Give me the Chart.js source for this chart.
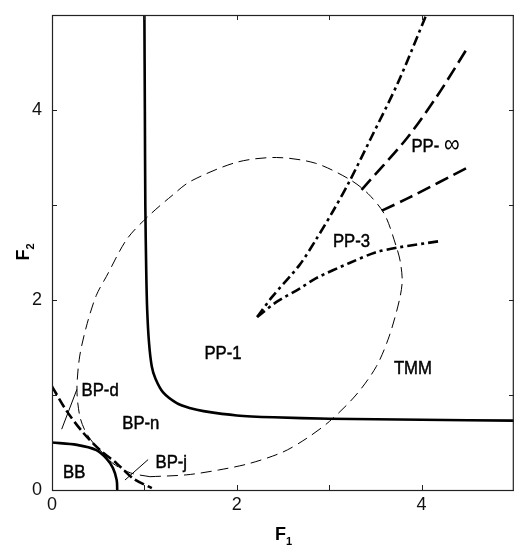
<!DOCTYPE html>
<html>
<head>
<meta charset="utf-8">
<script src="https://cdn.jsdelivr.net/npm/chart.js@4.4.1/dist/chart.umd.min.js"></script>
<style>
  html, body { margin: 0; padding: 0; background: #fff; }
  #phase { display: block; }
</style>
</head>
<body>
<canvas id="phase" width="514" height="545"></canvas>
<script>
// --- data (F1, F2) ---
const xTicks = [0, 1, 2, 3, 4, 5];
const xTickLabels = ['0', '', '2', '', '4', ''];
const yTicks = [0, 1, 2, 3, 4, 5];
const yTickLabels = ['0', '', '2', '', '4', ''];

// thick solid: PP-1 / BP-n boundary
const ppBoundary = [[1.0, 5.0], [1.005, 4.0], [1.01, 3.0], [1.02, 2.3], [1.03, 1.9], [1.05, 1.55],
  [1.08, 1.3], [1.12, 1.17], [1.2, 1.03], [1.35, 0.915], [1.5, 0.86], [1.64, 0.83], [2.0, 0.785],
  [2.4, 0.765], [3.0, 0.75], [4.0, 0.74], [5.0, 0.73]];
// thick solid: BB region
const bbBoundary = [[0, 0.5], [0.27, 0.475], [0.48, 0.42], [0.59, 0.33], [0.66, 0.23], [0.7, 0.105], [0.706, 0]];
// thick dashed: BP-d / BP-j split
const bpSplit = [[0, 1.09], [0.16, 0.83], [0.34, 0.6], [0.52, 0.42], [0.7, 0.28], [0.88, 0.12], [1.08, 0.02]];
// thin dashed closed loop: TMM
const tmmLoop = [[1.06, 0.14], [1.46, 0.16], [1.8, 0.21], [2.14, 0.28], [2.5, 0.4], [2.75, 0.54], [3.0, 0.72],
  [3.29, 1.0], [3.51, 1.3], [3.65, 1.62], [3.76, 2.0], [3.79, 2.2], [3.77, 2.4], [3.73, 2.55], [3.6, 2.9],
  [3.42, 3.12], [3.22, 3.27], [2.85, 3.44], [2.43, 3.5], [2.0, 3.45], [1.5, 3.25], [1.3, 3.1], [1.04, 2.88],
  [0.81, 2.64], [0.59, 2.25], [0.48, 2.05], [0.38, 1.75], [0.3, 1.41], [0.27, 1.06], [0.3, 0.78],
  [0.36, 0.62], [0.45, 0.49], [0.52, 0.42], [0.66, 0.28], [0.85, 0.18], [1.06, 0.14]];
// dash-dot branches from the PP-1 corner
const ppUpper = [[2.22, 1.82], [2.38, 2.03], [2.68, 2.37], [2.86, 2.64], [3.05, 2.95], [3.22, 3.25],
  [3.45, 3.7], [3.75, 4.3], [4.05, 5.0]];
const ppLower = [[2.22, 1.82], [2.43, 1.98], [2.68, 2.12], [2.86, 2.23], [3.22, 2.39], [3.5, 2.5],
  [3.73, 2.55], [4.2, 2.62]];
// long dashed: PP-inf edges
const infUpper = [[3.35, 3.16], [3.83, 3.69], [4.17, 4.15], [4.5, 4.66]];
const infLower = [[3.57, 2.94], [3.87, 3.08], [4.51, 3.4]];
// thin leader lines to labels
const leaderBPd = [[0.105, 0.64], [0.27, 1.06]];
const leaderBPj = [[0.79, 0.105], [1.04, 0.32]];

const regionNames = ['BB', 'BP-d', 'BP-n', 'BP-j', 'PP-1', 'PP-3', 'PP-', 'TMM'];
// --- end of data ---

function pts(list) {
  return list.map(p => ({ x: p[0], y: p[1] }));
}

function curve(list, width, dash, tension) {
  return {
    data: pts(list),
    showLine: true,
    borderColor: '#000',
    borderWidth: width,
    borderDash: dash,
    pointRadius: 0,
    tension: tension,
    fill: false
  };
}

// text anchors (left, baseline) in data units, and the squeeze of the scanned font
const labelAnchors = {
  'BB': [0.12, 0.13], 'BP-d': [0.32, 0.99], 'BP-n': [0.76, 0.64], 'BP-j': [1.12, 0.23],
  'PP-1': [1.65, 1.38], 'PP-3': [3.04, 2.56], 'PP-': [3.89, 3.56], 'TMM': [3.7, 1.22]
};
const textSqueeze = 0.88;

const framePlugin = {
  id: 'frame',
  afterDraw(chart) {
    const ctx = chart.ctx;
    const a = chart.chartArea;
    const xs = chart.scales.x, ys = chart.scales.y;
    ctx.save();
    ctx.strokeStyle = '#222';
    ctx.lineWidth = 1.2;
    ctx.strokeRect(a.left + 0.5, a.top + 0.5, a.right - a.left - 1.2, a.bottom - a.top);
    ctx.lineWidth = 1;
    ctx.beginPath();
    xTicks.forEach(v => {
      const px = Math.round(xs.getPixelForValue(v)) + 0.5;
      ctx.moveTo(px, a.bottom); ctx.lineTo(px, a.bottom - 5);
      ctx.moveTo(px, a.top); ctx.lineTo(px, a.top + 5);
    });
    yTicks.forEach(v => {
      const py = Math.round(ys.getPixelForValue(v)) + 0.5;
      ctx.moveTo(a.left, py); ctx.lineTo(a.left + 5, py);
      ctx.moveTo(a.right, py); ctx.lineTo(a.right - 5, py);
    });
    ctx.stroke();

    // region labels (a hairline stroke thickens them like the scan)
    ctx.fillStyle = '#000';
    ctx.strokeStyle = '#000';
    ctx.lineWidth = 0.5;
    ctx.textAlign = 'left';
    ctx.textBaseline = 'alphabetic';
    regionNames.forEach(name => {
      const [lx, ly] = labelAnchors[name];
      const px = xs.getPixelForValue(lx), py = ys.getPixelForValue(ly);
      ctx.save();
      ctx.translate(px, py);
      ctx.scale(textSqueeze, 1);
      ctx.font = '19px "Liberation Sans", Arial, sans-serif';
      ctx.fillText(name, 0, 0);
      ctx.strokeText(name, 0, 0);
      if (name === 'PP-') {
        const w = ctx.measureText('PP- ').width;
        ctx.font = '25px "Liberation Sans", sans-serif';
        ctx.fillText('\u221E', w, 0);
      }
      ctx.restore();
    });

    // axis titles with subscripts
    ctx.font = 'bold 18px "Liberation Sans", Arial, sans-serif';
    const cx = (a.left + a.right) / 2;
    const fw = ctx.measureText('F').width;
    ctx.fillText('F', cx - 8, 540);
    ctx.font = 'bold 11px "Liberation Sans", Arial, sans-serif';
    ctx.fillText('1', cx - 8 + fw, 545);

    const cy = (a.top + a.bottom) / 2;
    ctx.save();
    ctx.translate(29, cy + 8);
    ctx.rotate(-Math.PI / 2);
    ctx.font = 'bold 18px "Liberation Sans", Arial, sans-serif';
    ctx.fillText('F', 0, 0);
    ctx.font = 'bold 11px "Liberation Sans", Arial, sans-serif';
    ctx.fillText('2', fw, 5);
    ctx.restore();
    ctx.restore();
  }
};

new Chart(document.getElementById('phase'), {
  type: 'scatter',
  data: {
    datasets: [
      curve(ppBoundary, 2.6, [], 0.3),
      curve(bbBoundary, 2.6, [], 0.3),
      curve(bpSplit, 2.6, [10, 4], 0.3),
      curve(tmmLoop, 1, [11, 6], 0.3),
      curve(ppUpper, 2.6, [10, 4, 3, 4], 0.3),
      curve(ppLower, 2.6, [10, 4, 3, 4], 0.3),
      curve(infUpper, 2.6, [14, 6], 0.3),
      curve(infLower, 2.6, [14, 6], 0.3),
      curve(leaderBPd, 1, [], 0),
      curve(leaderBPj, 1, [], 0)
    ]
  },
  options: {
    responsive: false,
    animation: false,
    layout: { padding: { top: 15, right: 0, left: 0, bottom: 0 } },
    plugins: { legend: { display: false }, tooltip: { enabled: false } },
    scales: {
      x: {
        type: 'linear', min: 0, max: 5,
        afterBuildTicks: s => { s.ticks = xTicks.map(v => ({ value: v })); },
        afterFit: s => { s.height = 55; },
        grid: { display: false },
        border: { display: false },
        ticks: {
          autoSkip: false, maxRotation: 0, padding: -4, color: '#111',
          font: { size: 18, family: '"Liberation Sans", Arial, sans-serif' },
          callback: (v, i) => xTickLabels[xTicks.indexOf(v)]
        }
      },
      y: {
        type: 'linear', min: 0, max: 5,
        afterBuildTicks: s => { s.ticks = yTicks.map(v => ({ value: v })); },
        afterFit: s => { s.width = 52; },
        grid: { display: false },
        border: { display: false },
        ticks: {
          autoSkip: false, padding: 2, color: '#111',
          font: { size: 18, family: '"Liberation Sans", Arial, sans-serif' },
          callback: (v, i) => yTickLabels[yTicks.indexOf(v)]
        }
      }
    }
  },
  plugins: [framePlugin]
});
</script>
</body>
</html>
